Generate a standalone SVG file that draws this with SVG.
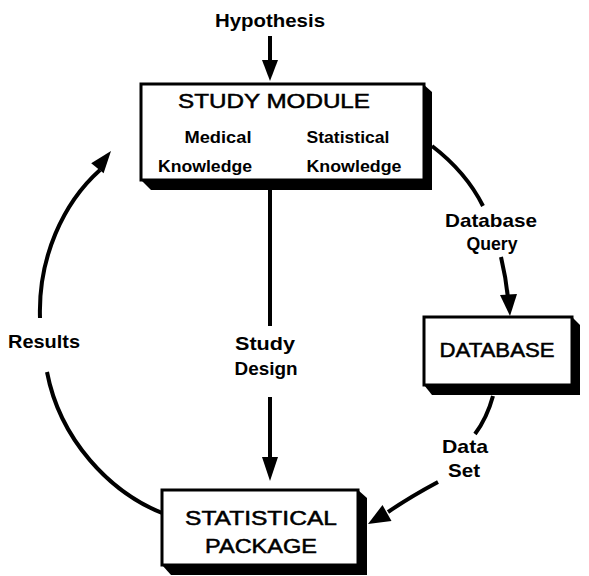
<svg xmlns="http://www.w3.org/2000/svg" width="589" height="576" viewBox="0 0 589 576">
<style>
.box{fill:#fff;stroke:#000;stroke-width:3}
.sh{fill:#000}
.title{font-family:"Liberation Sans",Arial,sans-serif;font-size:20px;fill:#000;stroke:#000;stroke-width:0.5;text-anchor:middle}
.lbl{font-family:"Liberation Sans",Arial,sans-serif;font-size:19px;font-weight:bold;fill:#000;text-anchor:middle}
.sm{font-family:"Liberation Sans",Arial,sans-serif;font-size:17px;font-weight:bold;fill:#000;text-anchor:middle}
.ln{fill:none;stroke:#000;stroke-width:4}
.head{fill:#000}
</style>
<rect width="589" height="576" fill="#fff"/>
<g id="hypothesis">
<text class="lbl" x="270" y="27" textLength="110" lengthAdjust="spacingAndGlyphs">Hypothesis</text>
</g>
<g id="study-module">
<polygon class="sh" points="423,84 432,92 432,190 151,190 141,180"/>
<rect class="box" x="141" y="84" width="283" height="96"/>
<text class="title" x="274" y="108" textLength="192" lengthAdjust="spacingAndGlyphs">STUDY MODULE</text>
<text class="sm" x="218" y="143" textLength="67" lengthAdjust="spacingAndGlyphs">Medical</text>
<text class="sm" x="205" y="172" textLength="94" lengthAdjust="spacingAndGlyphs">Knowledge</text>
<text class="sm" x="348" y="143" textLength="83" lengthAdjust="spacingAndGlyphs">Statistical</text>
<text class="sm" x="354" y="172" textLength="95" lengthAdjust="spacingAndGlyphs">Knowledge</text>
</g>
<g id="database">
<polygon class="sh" points="572,317 580,325 580,395 432,395 424,385"/>
<rect class="box" x="424" y="317" width="148" height="68"/>
<text class="title" x="497" y="357" textLength="115" lengthAdjust="spacingAndGlyphs">DATABASE</text>
</g>
<g id="statistical-package">
<polygon class="sh" points="358,490 367,498 367,575 171,575 162,565"/>
<rect class="box" x="162" y="490" width="196" height="75"/>
<text class="title" x="261" y="525" textLength="152" lengthAdjust="spacingAndGlyphs">STATISTICAL</text>
<text class="title" x="261" y="553" textLength="112" lengthAdjust="spacingAndGlyphs">PACKAGE</text>
</g>
<g id="connectors">
<line class="ln" x1="270" y1="36" x2="270" y2="62" stroke-width="3.5"/>
<polygon class="head" points="262,60 278,60 270,81"/>
<line class="ln" x1="270" y1="190" x2="270" y2="326"/>
<line class="ln" x1="270" y1="397" x2="270" y2="460"/>
<polygon class="head" points="262,457 278,457 270,481"/>
<path class="ln" d="M432,146 Q466,172 483,206" stroke-width="3.5"/>
<path class="ln" d="M501,257 Q506,278 508,298"/>
<polygon class="head" points="500,295 517,294 510,316"/>
<path class="ln" d="M493,396 Q487,418 475,434"/>
<path class="ln" d="M438,482 Q410,497 388,512"/>
<polygon class="head" points="391.5,521 382.5,505 368,524"/>
<path class="ln" d="M40,318 C38,258 63,203 100,170" stroke-width="5"/>
<polygon class="head" points="103.6,173.2 91.2,163.2 111,151"/>
<path class="ln" d="M47,372 C60,440 110,492 162,513" stroke-width="3"/>
</g>
<g id="labels">
<text class="lbl" x="491" y="227" textLength="92" lengthAdjust="spacingAndGlyphs">Database</text>
<text class="lbl" x="492" y="250" textLength="51" lengthAdjust="spacingAndGlyphs">Query</text>
<text class="lbl" x="265" y="350" textLength="60" lengthAdjust="spacingAndGlyphs">Study</text>
<text class="lbl" x="266" y="375" textLength="63" lengthAdjust="spacingAndGlyphs">Design</text>
<text class="lbl" x="465" y="453" textLength="46" lengthAdjust="spacingAndGlyphs">Data</text>
<text class="lbl" x="464" y="477" textLength="32" lengthAdjust="spacingAndGlyphs">Set</text>
<text class="lbl" x="44" y="348" textLength="72" lengthAdjust="spacingAndGlyphs">Results</text>
</g>
</svg>
